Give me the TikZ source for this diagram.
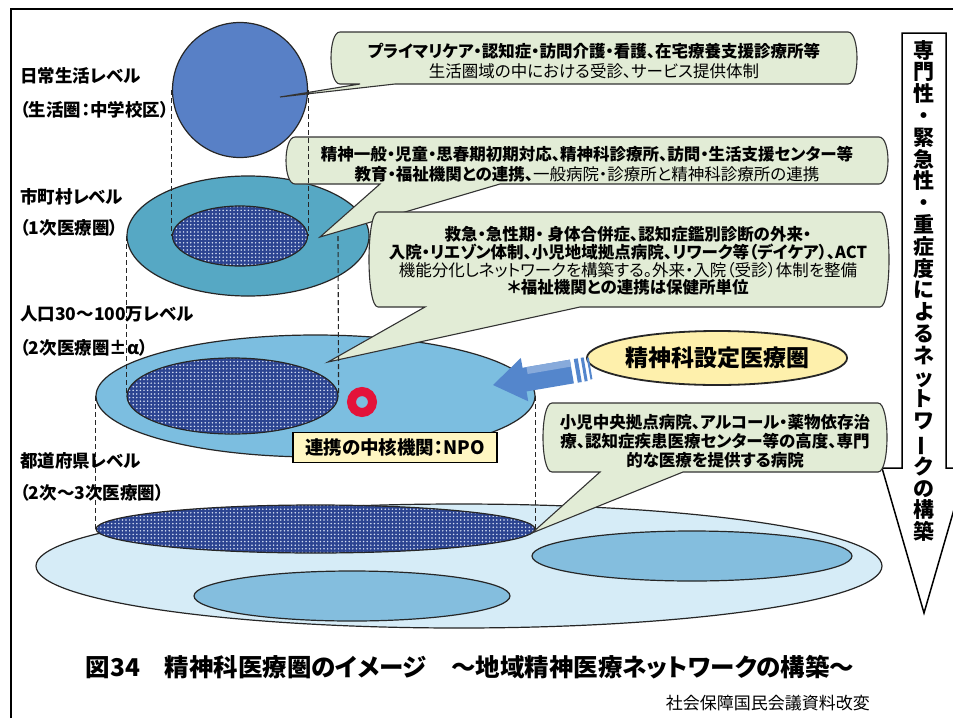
\documentclass[tikz,border=0pt]{standalone}
\usepackage{fontspec}
\setmainfont{Noto Sans CJK JP}[RawFeature=+palt]
\usepackage{graphicx}
\usetikzlibrary{patterns,shapes.geometric}
\definecolor{cgreen}{RGB}{226,236,214}
\definecolor{c1blue}{RGB}{88,128,198}
\definecolor{c2blue}{RGB}{86,168,196}
\definecolor{c3blue}{RGB}{124,190,224}
\definecolor{c4blue}{RGB}{214,236,247}
\definecolor{cinner}{RGB}{132,190,222}
\definecolor{hatchblue}{RGB}{44,68,145}
\definecolor{dotcol}{RGB}{215,225,245}
\definecolor{npoyellow}{RGB}{255,246,194}
\definecolor{ovalyellow}{RGB}{254,240,172}
\definecolor{arrowblue}{RGB}{84,134,204}
\definecolor{ringred}{RGB}{228,18,58}
\pgfdeclarepatternformonly{bigdots}{\pgfpoint{-1pt}{-1pt}}{\pgfpoint{1pt}{1pt}}{\pgfpoint{3.6pt}{3.6pt}}%
  {\pgfpathcircle{\pgfpointorigin}{0.85pt}\pgfusepath{fill}}
\newcommand\mycallout[8]{%
  \filldraw[callout] (#1+10,#2) -- (#3-10,#2) .. controls (#3+2,#2) and (#3+2,#4) .. (#3-10,#4)
    -- (#6,#4) -- (#7,#8) -- (#5,#4) -- (#1+10,#4) .. controls (#1-2,#4) and (#1-2,#2) .. (#1+10,#2) -- cycle;}
\begin{document}
\begin{tikzpicture}[x=1pt,y=-1pt,
  callout/.style={draw=black!80, line width=1.1pt, fill=cgreen},
  lvl/.style={ellipse, draw=black!85, line width=1.2pt, inner sep=0pt},
  hatch/.style={lvl, preaction={fill=hatchblue}, pattern=bigdots, pattern color=dotcol},
  guide/.style={draw=black!85, line width=1.1pt, dash pattern=on 5pt off 3pt},
  lab/.style={anchor=west, font=\bfseries\fontsize{17.5}{17.5}\selectfont, inner sep=0pt},
  ctext/.style={align=center, inner sep=0pt, font=\fontsize{16.5}{19.5}\selectfont}]
\useasboundingbox (0,0) rectangle (953,718);
\fill[white] (0,0) rectangle (953,718);
% frame
\draw[line width=2.5pt] (11,718) -- (11,9) -- (953,9);

% right vertical arrow
\draw[line width=1.5pt, fill=white] (902,33) -- (946,33) -- (946,468) -- (966,468) -- (924,613) -- (882,468) -- (902,468) -- cycle;
\node[anchor=north, align=center, inner sep=0pt, font=\bfseries\fontsize{21}{21.8}\selectfont] (vt) at (924,40)
 {専\\門\\性\\・\\緊\\急\\性\\・\\重\\症\\度\\に\\よ\\る\\ネ\\ッ\\ト\\ワ\\\rotatebox[origin=c]{90}{ー}\\ク\\の\\構\\築};

% level 4
\node[lvl, fill=c4blue, minimum width=846pt, minimum height=124pt] (L4) at (459,566) {};
\node[lvl, fill=cinner, minimum width=320pt, minimum height=50pt] (R4) at (692,556) {};
\node[lvl, fill=cinner, minimum width=316pt, minimum height=50pt] (B4) at (352,596) {};
\node[hatch, minimum width=439pt, minimum height=48pt] (H4) at (315.5,529) {};

% level 3
\node[lvl, fill=c3blue, minimum width=439pt, minimum height=122pt] (L3) at (315.5,396) {};
\node[hatch, minimum width=211pt, minimum height=76pt] (H3) at (232.5,396) {};
\node[circle, draw=ringred, line width=9pt, minimum size=21pt, inner sep=0pt] (ring) at (362,402) {};

% level 2
\node[lvl, fill=c2blue, minimum width=242pt, minimum height=120pt] (L2) at (248,236) {};
\node[hatch, minimum width=135pt, minimum height=60pt] (H2) at (240,236) {};

% level 1
\node[circle, draw=black!85, line width=1.2pt, fill=c1blue, minimum size=135pt, inner sep=0pt] (L1) at (240,90) {};

% callouts
\mycallout{330}{32}{858}{84}{360}{395}{280}{97}
\node[ctext] (t1) at (594,61) {\textbf{プライマリケア・認知症・訪問介護・看護、在宅療養支援診療所等}\\生活圏域の中における受診、サービス提供体制};

\mycallout{285}{137}{889}{184}{380}{500}{320}{237}
\node[ctext] (t2) at (587,164) {\textbf{精神一般・児童・思春期初期対応、精神科診療所、訪問・生活支援センター等}\\\textbf{教育・福祉機関との連携、}一般病院・診療所と精神科診療所の連携};

\mycallout{368}{212}{890}{307}{425}{580}{328}{362}
\node[ctext, font=\fontsize{16.5}{17.8}\selectfont] (t3) at (628,261) {\textbf{救急・急性期・ 身体合併症、認知症鑑別診断の外来・}\\\textbf{入院・リエゾン体制、小児地域拠点病院、リワーク等（デイケア）、ACT}\\機能分化しネットワークを構築する。外来・入院（受診）体制を整備\\\textbf{＊福祉機関との連携は保健所単位}};

\mycallout{542}{403}{888}{472}{600}{683}{532}{533}
\node[ctext, font=\bfseries\fontsize{16.5}{19}\selectfont] (t4) at (715,441) {小児中央拠点病院、アルコール・薬物依存治\\療、認知症疾患医療センター等の高度、専門\\的な医療を提供する病院};

% guide lines
\draw[guide] (L1.west) -- (H2.west);
\draw[guide] (L1.east) -- (H2.east);
\coordinate (g2r) at (338,236);
\draw[guide] (L2.west) -- (H3.west);
\draw[guide] (g2r) -- (H3.east);
\draw[guide] (L3.west) -- (H4.west);
\draw[guide] (L3.east) -- (H4.east);

% NPO label
\node[draw=black, line width=1.5pt, fill=npoyellow, minimum width=204pt, minimum height=30pt, inner sep=0pt,
  font=\bfseries\fontsize{18.5}{18.5}\selectfont] (npo) at (395,447.5) {連携の中核機関：NPO};

% zone oval and arrow
\node[ellipse, draw=black!85, line width=1.8pt, fill=ovalyellow, minimum width=250pt, minimum height=54pt, inner sep=0pt,
  font=\bfseries\fontsize{23}{23}\selectfont] (zone) at (717,358) {精神科設定医療圏};
\begin{scope}[shift={(493,385)}, rotate=9.7]
  \fill[arrowblue] (0,0) -- (32,-22) -- (32,-12) -- (80,-12) -- (80,12) -- (32,12) -- (32,22) -- cycle;
  \fill[arrowblue!70!white] (36,-12) -- (80,-12) -- (80,-5) -- (36,-5) -- cycle;
  \fill[arrowblue] (84,-12) rectangle (88,12);
  \fill[arrowblue] (91,-12) rectangle (94,12);
  \fill[arrowblue] (97,-11) rectangle (99,11);
\end{scope}

% left labels
\node[lab] (a1) at (20,76) {日常生活レベル};
\node[lab] (a2) at (20,110) {（生活圏：中学校区）};
\node[lab] (b1) at (20,197) {市町村レベル};
\node[lab] (b2) at (20,228) {（1次医療圏）};
\node[lab] (c1) at (20,314) {人口30～100万レベル};
\node[lab] (c2) at (20,348) {（2次医療圏±α）};
\node[lab] (d1) at (20,461) {都道府県レベル};
\node[lab] (d2) at (20,493) {（2次～3次医療圏）};

% title
\node[inner sep=0pt, font=\bfseries\fontsize{24.5}{24.5}\selectfont] (title) at (470,667) {図34　精神科医療圏のイメージ　～地域精神医療ネットワークの構築～};
\node[anchor=east, inner sep=0pt, font=\fontsize{17}{17}\selectfont] (src) at (870,703) {社会保障国民会議資料改変};
\end{tikzpicture}
\end{document}
